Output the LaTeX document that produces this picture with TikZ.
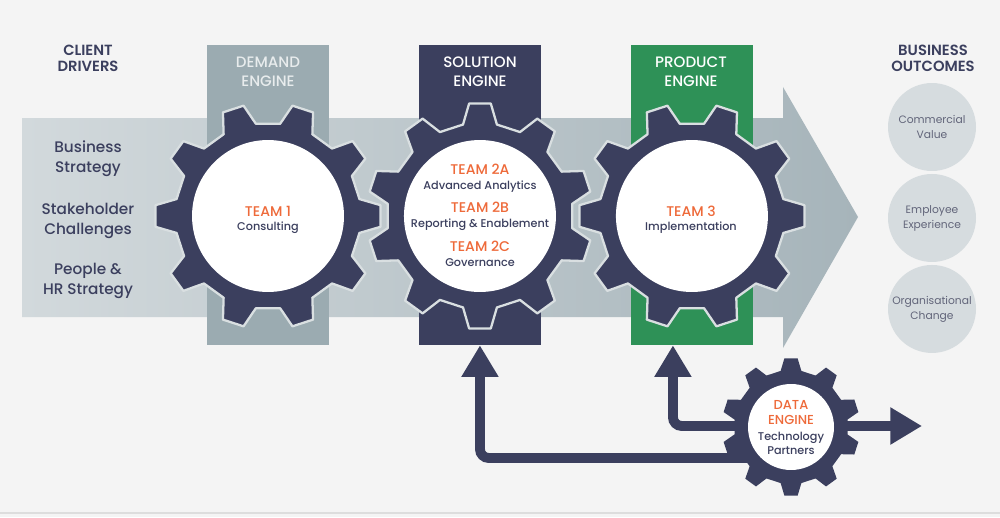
\documentclass[tikz,border=0pt]{standalone}
\usepackage{fontspec}
\setmainfont{Poppins}
\newfontfamily\medfont{Poppins Medium}
\newfontfamily\semifont{Poppins SemiBold}
\usetikzlibrary{arrows.meta,positioning,calc}

\definecolor{bg}{HTML}{F4F4F4}
\definecolor{navy}{HTML}{3B3F5E}
\definecolor{orange}{HTML}{EE6A3A}
\definecolor{demandfill}{HTML}{9BABB1}
\definecolor{productfill}{HTML}{2E9157}
\definecolor{pale}{HTML}{D6DCDF}
\definecolor{greytext}{HTML}{62657A}
\definecolor{arrowL}{HTML}{D2D9DC}
\definecolor{arrowR}{HTML}{A6B4BA}
\definecolor{halo}{HTML}{D9DFE1}
\definecolor{rule}{HTML}{DDDDDD}

\begin{document}
\begin{tikzpicture}[
			x=0.02cm, y=-0.02cm,
			node distance={4.24cm},
			band/.style = {minimum width=2.44cm, minimum height=6cm, inner sep=0pt},
			hub/.style = {circle, fill=white, minimum size=3.04cm, inner sep=0pt},
			gear/.style = {fill=navy, draw=halo, line width=1.3pt, line join=round},
			head/.style = {text=navy, font=\semifont\fontsize{8.4}{9}\selectfont, align=center},
			driver/.style = {text=navy, font=\medfont\fontsize{8.7}{11.3}\selectfont, align=center},
			engine/.style = {text=white, font=\medfont\fontsize{8.6}{10.8}\selectfont, align=center},
			team/.style = {text=orange, font=\medfont\fontsize{8}{9}\selectfont, anchor=base, inner sep=0pt},
			role/.style = {text=navy, font=\medfont\fontsize{6.4}{7}\selectfont, anchor=base, inner sep=0pt},
			outcome/.style = {circle, fill=pale, minimum size=1.76cm, inner sep=0pt, text=greytext, font=\fontsize{6.1}{8.5}\selectfont, align=center},
			flow/.style = {draw=navy, line width=5.6pt, rounded corners=5pt, -{Triangle[length=18pt,width=20pt]}}
		]
		\useasboundingbox (0,0) rectangle (1000,517);
		\fill[bg] (0,0) rectangle (1000,517);
		\draw[rule, line width=0.6pt] (0,513) -- (1000,513);

		\shade[left color=arrowL, right color=arrowR] (22,118) -- (783,118) -- (783,87) -- (858,217) -- (783,348) -- (783,317) -- (22,317) -- cycle;

		\node[band, fill=demandfill] (demand) at (268,195) {};
		\node[band, fill=navy] (solution) [right of=demand] {};
		\node[band, fill=productfill] (product) [right of=solution] {};

		\node[engine, text=halo!60!white] (demandlbl) at (268,72) {DEMAND\\ENGINE};
		\node[engine] (solutionlbl) at (480,72) {SOLUTION\\ENGINE};
		\node[engine] (productlbl) at (691,72) {PRODUCT\\ENGINE};

		\coordinate (c1) at (268,216);
		\coordinate[right=4.24cm of c1] (c2);
		\coordinate[right=4.24cm of c2] (c3);
		\coordinate (c4) at (791,427);
		\coordinate (out) at (922,426);

		\draw[flow] ([yshift=-0.62cm]c4) -| (solution.south);
		\draw[flow] ([yshift=0.02cm]c4) -| ([xshift=-0.38cm]product.south);
		\draw[flow] ([yshift=0.02cm]c4) -- (out);

		\foreach \c/\p in {c1/0, c2/18, c3/0}
			\filldraw[gear, shift={(\c)}] ({\p-10.5}:93) \foreach \a in {0,36,...,324} {-- ({\p+\a-10.5}:93) -- ({\p+\a-5.5}:113) -- ({\p+\a+5.5}:113) -- ({\p+\a+10.5}:93)} -- cycle;
		\fill[navy, shift={(c4)}] (7.5:57) \foreach \a in {18,54,...,342} {-- ({\a-10.5}:57) -- ({\a-5.5}:69) -- ({\a+5.5}:69) -- ({\a+10.5}:57)} -- cycle;

		\node[hub] (hub1) at (c1) {};
		\node[hub] (hub2) at (c2) {};
		\node[hub] (hub3) at (c3) {};
		\node[hub, minimum size=1.72cm] (hub4) at (c4) {};

		\node[team] (team1) at (268,216) {TEAM 1};
		\node[role] (consulting) at (268,230) {Consulting};
		\node[team] (team2a) at (480,174) {TEAM 2A};
		\node[role] (analytics) at (480,189) {Advanced Analytics};
		\node[team] (team2b) at (480,212.7) {TEAM 2B};
		\node[role] (reporting) at (480,227.3) {Reporting \& Enablement};
		\node[team] (team2c) at (480,251) {TEAM 2C};
		\node[role] (governance) at (480,266) {Governance};
		\node[team] (team3) at (691,216) {TEAM 3};
		\node[role] (implementation) at (691,230) {Implementation};
		\node[team, font=\medfont\fontsize{7.4}{8}\selectfont] (data) at (791,409) {DATA};
		\node[team, font=\medfont\fontsize{7.4}{8}\selectfont] (dataengine) at (791,424) {ENGINE};
		\node[role] (technology) at (791,440) {Technology};
		\node[role] (partners) at (791,454.3) {Partners};

		\node[head] (drivers) at (88,58.5) {CLIENT\\DRIVERS};
		\node[driver] (strategy) at (88,159) {Business\\Strategy};
		\node[driver] (challenges) at (88,221) {Stakeholder\\Challenges};
		\node[driver] (people) at (88,281) {People \&\\HR Strategy};

		\node[head] (outcomes) at (933,58.5) {BUSINESS\\OUTCOMES};
		\node[outcome] (value) at (932,127) {Commercial\\Value};
		\node[outcome, below of=value, node distance=1.82cm] (experience) {Employee\\Experience};
		\node[outcome, below of=experience, node distance=1.82cm] (change) {Organisational\\Change};
	\end{tikzpicture}
\end{document}
